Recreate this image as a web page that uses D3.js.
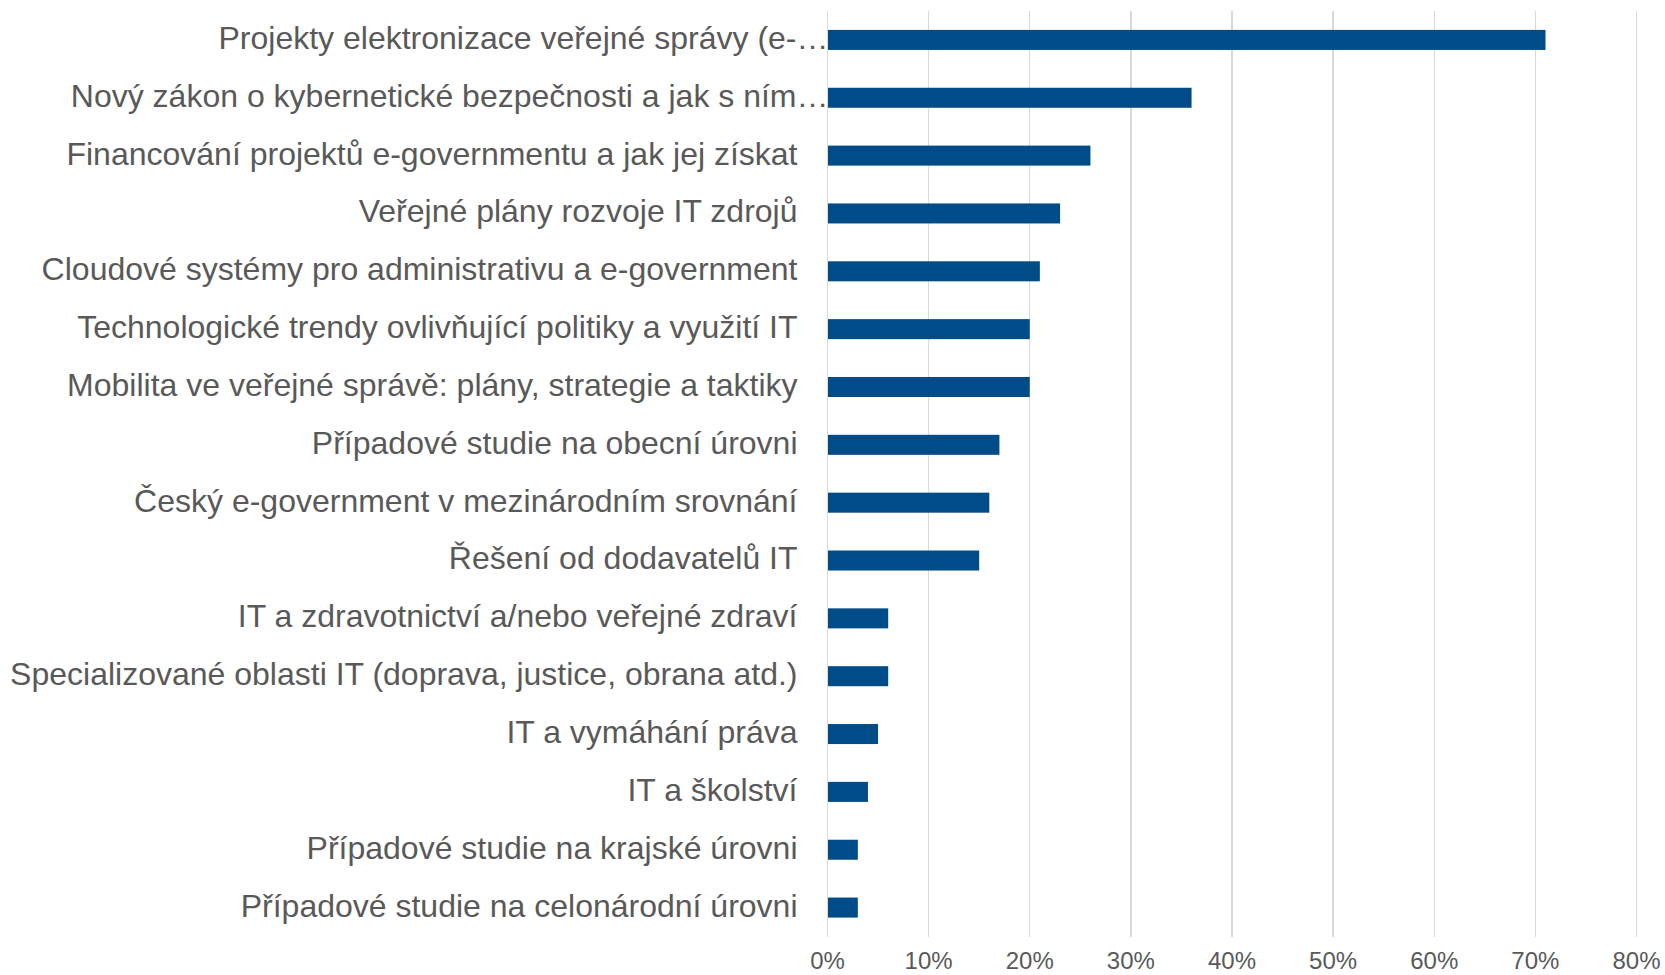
<!DOCTYPE html>
<html>
<head>
<meta charset="utf-8">
<script src="https://cdn.jsdelivr.net/npm/d3@7"></script>
<style>
  html, body { margin: 0; padding: 0; background: #ffffff; }
  svg { display: block; }
</style>
</head>
<body>
<svg id="chart" width="1665" height="975"></svg>
<script>
const categories = [
  "Projekty elektronizace veřejné správy (e-…",
  "Nový zákon o kybernetické bezpečnosti a jak s ním…",
  "Financování projektů e-governmentu a jak jej získat",
  "Veřejné plány rozvoje IT zdrojů",
  "Cloudové systémy pro administrativu a e-government",
  "Technologické trendy ovlivňující politiky a využití IT",
  "Mobilita ve veřejné správě: plány, strategie a taktiky",
  "Případové studie na obecní úrovni",
  "Český e-government v mezinárodním srovnání",
  "Řešení od dodavatelů IT",
  "IT a zdravotnictví a/nebo veřejné zdraví",
  "Specializované oblasti IT (doprava, justice, obrana atd.)",
  "IT a vymáhání práva",
  "IT a školství",
  "Případové studie na krajské úrovni",
  "Případové studie na celonárodní úrovni"
];
const values = [71, 36, 26, 23, 21, 20, 20, 17, 16, 15, 6, 6, 5, 4, 3, 3];
const tickValues = [0, 10, 20, 30, 40, 50, 60, 70, 80];
const tickLabels = ["0%", "10%", "20%", "30%", "40%", "50%", "60%", "70%", "80%"];

const svg = d3.select("#chart");
const plot = { left: 827.5, right: 1636.5, top: 11, bottom: 936.5 };

const x = d3.scaleLinear().domain([0, 80]).range([plot.left, plot.right]);
const y = d3.scaleBand().domain(categories).range([plot.top, plot.bottom])
  .paddingInner(0.654).paddingOuter(0.327);

// gridlines
svg.append("g").selectAll("line").data(tickValues).join("line")
  .attr("x1", d => x(d)).attr("x2", d => x(d))
  .attr("y1", plot.top).attr("y2", plot.bottom)
  .attr("stroke", "#d9d9d9").attr("stroke-width", 1.3)
  .attr("shape-rendering", "crispEdges");

// bars
svg.append("g").selectAll("rect").data(categories).join("rect")
  .attr("x", x(0) + 0.5)
  .attr("y", d => y(d))
  .attr("width", (d, i) => x(values[i]) - x(0) - 0.5)
  .attr("height", y.bandwidth())
  .attr("fill", "#004c88");

// category labels
svg.append("g").selectAll("text").data(categories).join("text")
  .attr("x", d => d.endsWith("…") ? x(0) + 1 : x(0) - 30)
  .attr("y", d => y(d) + y.bandwidth() / 2)
  .attr("dy", "0.28em")
  .attr("text-anchor", "end")
  .attr("font-family", "'Liberation Sans', Arial, sans-serif")
  .attr("font-size", 32)
  .attr("fill", "#595959")
  .text(d => d);

// x tick labels
svg.append("g").selectAll("text").data(tickValues).join("text")
  .attr("x", d => x(d))
  .attr("y", 969)
  .attr("text-anchor", "middle")
  .attr("font-family", "'Liberation Sans', Arial, sans-serif")
  .attr("font-size", 24)
  .attr("fill", "#595959")
  .text((d, i) => tickLabels[i]);
</script>
</body>
</html>
